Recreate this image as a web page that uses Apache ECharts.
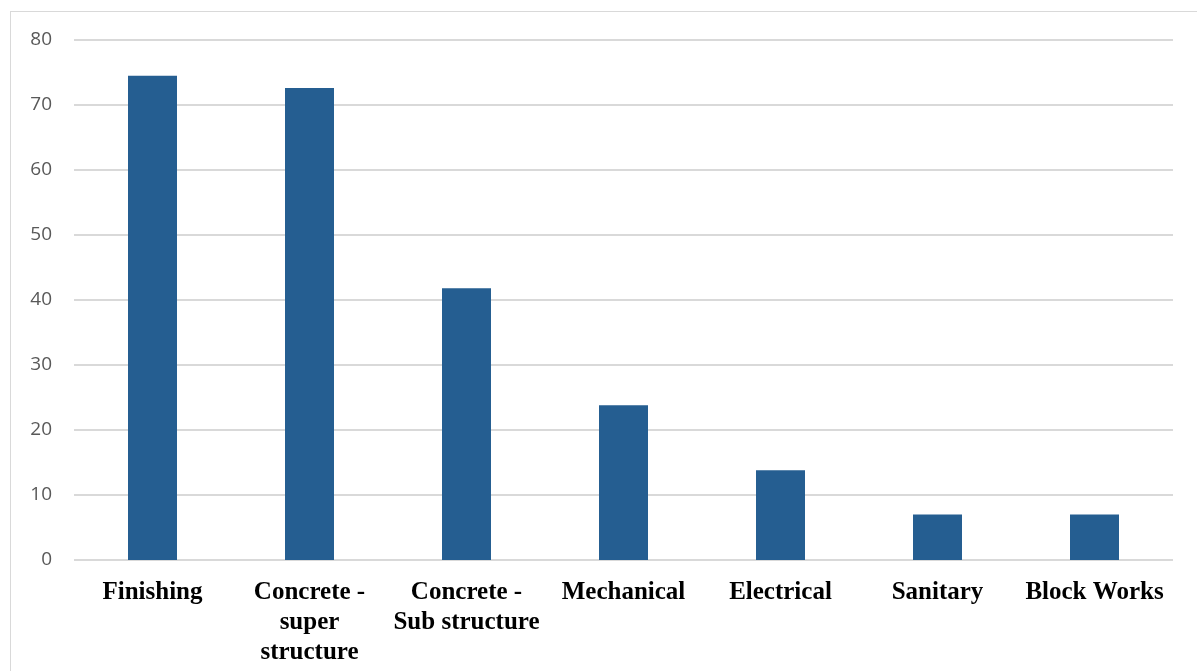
<!DOCTYPE html>
<html>
<head>
<meta charset="utf-8">
<script src="https://cdn.jsdelivr.net/npm/echarts@6/dist/echarts.min.js"></script>
<style>
    html, body {margin: 0; padding: 0; background: #fff; overflow: hidden;}
    #frame {position: absolute; left: 10px; top: 11px; width: 1200px; height: 700px; border: 1px solid #d9d9d9; box-sizing: border-box;}
    #chart {position: absolute; left: 0; top: 0; width: 1197px; height: 671px;}
</style>
</head>
<body>
<div id="frame"></div>
<div id="chart"></div>
<script>
// categories along the x axis
var categories = ['Finishing', 'Concrete -\nsuper\nstructure', 'Concrete -\nSub structure', 'Mechanical', 'Electrical', 'Sanitary', 'Block Works'];
// bar heights
var values = [74.5, 72.6, 41.8, 23.8, 13.8, 7, 7];
// y axis range
var yTicks = {min: 0, max: 80, interval: 10};

var chart = echarts.init(document.getElementById('chart'));

var option = {
    animation: false,
    grid: {
        left: 74,
        right: 24,
        top: 40,
        bottom: 111
    },
    xAxis: {
        type: 'category',
        data: categories,
        axisLine: {show: false},
        axisTick: {show: false},
        axisLabel: {
            interval: 0,
            margin: 18,
            color: '#000',
            fontFamily: 'Liberation Serif',
            fontWeight: 'bold',
            fontSize: 25,
            lineHeight: 30
        }
    },
    yAxis: {
        type: 'value',
        min: yTicks.min,
        max: yTicks.max,
        interval: yTicks.interval,
        axisLine: {show: false},
        axisTick: {show: false},
        axisLabel: {
            margin: 22,
            color: '#595959',
            fontFamily: 'Open Sans',
            fontSize: 19
        },
        splitLine: {lineStyle: {color: '#d9d9d9', width: 2}}
    },
    series: [{
        type: 'bar',
        data: values,
        barWidth: 49,
        itemStyle: {color: '#255e91'}
    }]
};

chart.setOption(option);
</script>
</body>
</html>
